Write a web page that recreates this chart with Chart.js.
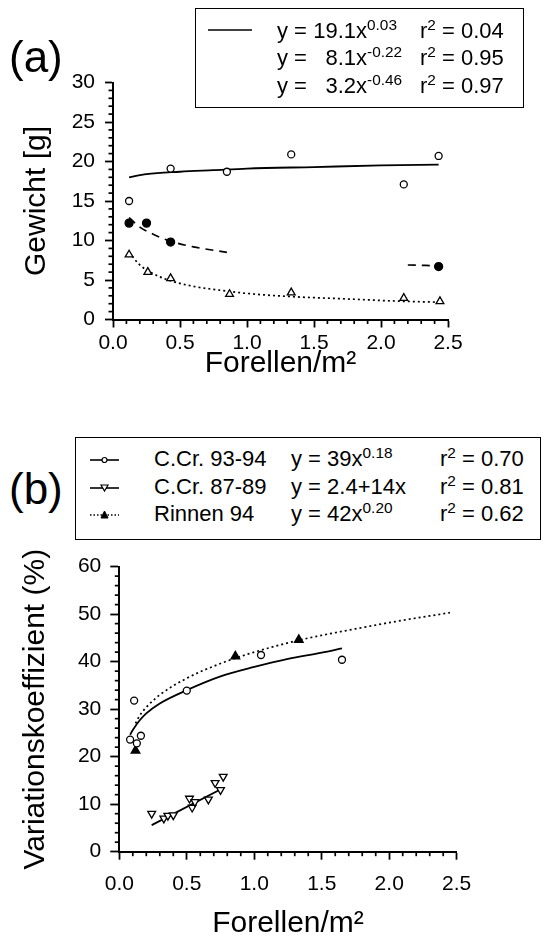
<!DOCTYPE html>
<html>
<head>
<meta charset="utf-8">
<script src="https://cdn.jsdelivr.net/npm/chart.js@4.4.0/dist/chart.umd.min.js"></script>
<style>
html, body { margin: 0; padding: 0; background: #fff; overflow: hidden; }
#page { position: relative; width: 548px; height: 938px; font-family: "Liberation Sans", Arial, Helvetica, sans-serif; color: #000; }
canvas { position: absolute; left: 0; }
#chartA { top: 0; }
#chartB { top: 545px; }
.tag { position: absolute; font-size: 44px; line-height: 1; }
.box { position: absolute; border: 1.5px solid #000; box-sizing: border-box; }
.txt { position: absolute; font-size: 22px; line-height: 1; white-space: nowrap; }
.coef { display: inline-block; text-align: right; }
sup { font-size: 0.7em; vertical-align: 0.5em; line-height: 0; }
svg { position: absolute; overflow: visible; }
</style>
</head>
<body>
<div id="page">
  <canvas id="chartA" width="548" height="400"></canvas>
  <canvas id="chartB" width="548" height="420"></canvas>

  <div class="tag" style="left:9px; top:35px;">(a)</div>
  <div class="tag" style="left:9px; top:467px;">(b)</div>

  <!-- Legende (a) -->
  <div class="box" style="left:195px; top:8px; width:329px; height:100px;"></div>
  <svg style="left:208px; top:30px;" width="44" height="2"><line x1="0" y1="0" x2="44" y2="0" stroke="#000" stroke-width="1.6"/></svg>
  <div class="txt" style="left:277px; top:20px;">y =</div>
  <div class="txt" style="left:310px; top:20px;"><span class="coef" style="width:46px;">19.1</span>x<sup>0.03</sup></div>
  <div class="txt" style="left:420px; top:20px;">r<sup>2</sup> = 0.04</div>
  <div class="txt" style="left:277px; top:47px;">y =</div>
  <div class="txt" style="left:310px; top:47px;"><span class="coef" style="width:46px;">8.1</span>x<sup>-0.22</sup></div>
  <div class="txt" style="left:420px; top:47px;">r<sup>2</sup> = 0.95</div>
  <div class="txt" style="left:277px; top:75px;">y =</div>
  <div class="txt" style="left:310px; top:75px;"><span class="coef" style="width:46px;">3.2</span>x<sup>-0.46</sup></div>
  <div class="txt" style="left:420px; top:75px;">r<sup>2</sup> = 0.97</div>

  <!-- Legende (b) -->
  <div class="box" style="left:75px; top:437px; width:466px; height:103px;"></div>
  <svg style="left:90px; top:460px;" width="29" height="2">
    <line x1="0" y1="0" x2="29" y2="0" stroke="#000" stroke-width="1.6"/>
    <circle cx="14.5" cy="0" r="2.5" fill="#fff" stroke="#000" stroke-width="1.2"/>
  </svg>
  <svg style="left:90px; top:488px;" width="29" height="2">
    <line x1="0" y1="0" x2="29" y2="0" stroke="#000" stroke-width="1.6"/>
    <polygon points="11,-3 18,-3 14.5,3" fill="#fff" stroke="#000" stroke-width="1.2"/>
  </svg>
  <svg style="left:90px; top:515px;" width="29" height="2">
    <line x1="0" y1="0" x2="29" y2="0" stroke="#000" stroke-width="1.3" stroke-dasharray="1.5,2"/>
    <polygon points="11,3 18,3 14.5,-4" fill="#000" stroke="#000" stroke-width="1"/>
  </svg>
  <div class="txt" style="left:154px; top:448px;">C.Cr. 93-94</div>
  <div class="txt" style="left:291px; top:448px;">y = 39x<sup>0.18</sup></div>
  <div class="txt" style="left:440px; top:448px;">r<sup>2</sup> = 0.70</div>
  <div class="txt" style="left:154px; top:476px;">C.Cr. 87-89</div>
  <div class="txt" style="left:291px; top:476px;">y = 2.4+14x</div>
  <div class="txt" style="left:440px; top:476px;">r<sup>2</sup> = 0.81</div>
  <div class="txt" style="left:154px; top:503px;">Rinnen 94</div>
  <div class="txt" style="left:291px; top:503px;">y = 42x<sup>0.20</sup></div>
  <div class="txt" style="left:440px; top:503px;">r<sup>2</sup> = 0.62</div>
</div>

<script>
// ---- Daten Panel (a): Gewicht [g] vs Forellen/m2 ----
const aOpenX = [0.12, 0.43, 0.85, 1.33, 2.17, 2.43];
const aOpenY = [15.0, 19.1, 18.7, 20.9, 17.1, 20.7];
const aFilledX = [0.12, 0.25, 0.43, 2.43];
const aFilledY = [12.2, 12.2, 9.8, 6.7];
const aTriX = [0.12, 0.26, 0.43, 0.87, 1.33, 2.17, 2.44];
const aTriY = [8.2, 6.0, 5.2, 3.2, 3.4, 2.7, 2.3];
// Regressionskurven
const aFit1X = [0.12, 0.25, 0.5, 0.75, 1.0, 1.5, 2.0, 2.43];
const aFit1Y = [18.0, 18.4, 18.7, 18.9, 19.1, 19.3, 19.5, 19.6];
const aFit2X = [0.12, 0.2, 0.3, 0.43, 0.6, 0.85, 1.5, 2.2, 2.43];
const aFit2Y = [12.9, 11.7, 10.8, 9.9, 9.2, 8.5, null, 6.9, 6.8];
const aFit3X = [0.12, 0.2, 0.3, 0.43, 0.6, 0.85, 1.0, 1.33, 1.75, 2.17, 2.43];
const aFit3Y = [8.5, 6.9, 5.8, 4.9, 4.2, 3.6, 3.3, 2.9, 2.6, 2.3, 2.2];

// ---- Daten Panel (b): Variationskoeffizient (%) ----
const bOpenX = [0.08, 0.11, 0.13, 0.16, 0.50, 1.05, 1.65];
const bOpenY = [23.6, 31.8, 22.8, 24.4, 33.9, 41.4, 40.4];
const bDownX = [0.24, 0.33, 0.36, 0.40, 0.52, 0.54, 0.56, 0.66, 0.71, 0.75, 0.77];
const bDownY = [8.0, 7.0, 7.6, 7.7, 11.2, 9.3, 10.5, 11.0, 14.5, 13.0, 15.8];
const bFilledX = [0.12, 0.86, 1.33];
const bFilledY = [21.3, 41.1, 44.6];
const bFit1X = [0.08, 0.1, 0.15, 0.2, 0.3, 0.5, 0.75, 1.0, 1.25, 1.5, 1.65];
const bFit1Y = [24.6, 25.6, 27.6, 29.1, 31.2, 34.0, 36.9, 38.9, 40.6, 41.9, 42.8];
const bFit2X = [0.24, 0.77];
const bFit2Y = [5.6, 13.4];
const bFit3X = [0.12, 0.15, 0.2, 0.3, 0.5, 0.75, 1.0, 1.33, 1.75, 2.1, 2.45];
const bFit3Y = [27.0, 28.6, 30.4, 33.0, 36.5, 39.6, 42.0, 44.5, 46.9, 48.7, 50.3];

// Achsen
const xMax = 2.5, xMinorStep = 0.1, xMajorStep = 0.5;
const aYMax = 30, aYMinorStep = 1, aYMajorStep = 5;
const bYMax = 60, bYMinorStep = 2, bYMajorStep = 10;

const FONT = '"Liberation Sans", Arial, Helvetica, sans-serif';

const pts = (xs, ys) => xs.map((x, i) => ({ x: x, y: ys[i] }));
const isMajor = (v, step) => Math.abs(v / step - Math.round(v / step)) < 1e-6;

function tickList(max, step) {
    const out = [];
    const n = Math.round(max / step);
    for (let i = 0; i <= n; i++) out.push({ value: +(i * step).toFixed(4) });
    return out;
}

// Nebenstriche nach aussen (Hauptstriche kommen von Chart.js selbst)
function minorTicks(specX, specY) {
    return {
        id: 'minorTicks',
        afterDraw(chart) {
            const ctx = chart.ctx;
            const area = chart.chartArea;
            ctx.save();
            ctx.strokeStyle = '#000';
            ctx.lineWidth = 1.7;
            ctx.setLineDash([]);
            [['x', specX], ['y', specY]].forEach(([id, spec]) => {
                const s = chart.scales[id];
                tickList(spec.max, spec.minor).forEach(t => {
                    if (isMajor(t.value, spec.major)) return;
                    const p = s.getPixelForValue(t.value);
                    ctx.beginPath();
                    if (id === 'x') {
                        ctx.moveTo(p, area.bottom);
                        ctx.lineTo(p, area.bottom + 4.5);
                    } else {
                        ctx.moveTo(area.left, p);
                        ctx.lineTo(area.left - 4.5, p);
                    }
                    ctx.stroke();
                });
            });
            ctx.restore();
        }
    };
}

function axis(opts) {
    return {
        type: 'linear',
        min: 0,
        max: opts.max,
        afterBuildTicks: s => { s.ticks = tickList(opts.max, opts.major); },
        afterFit: s => { if (opts.size.w) s.width = opts.size.w; if (opts.size.h) s.height = opts.size.h; },
        ticks: {
            autoSkip: false,
            maxRotation: 0,
            padding: opts.pad,
            color: '#000',
            font: { family: FONT, size: 21 },
            callback: v => opts.digits ? v.toFixed(1) : String(Math.round(v))
        },
        grid: {
            display: true,
            drawOnChartArea: false,
            drawTicks: true,
            tickLength: opts.majorLen,
            tickColor: '#000',
            tickWidth: 1.8
        },
        border: { display: true, color: '#000', width: 2 },
        title: {
            display: true,
            text: opts.title,
            color: '#000',
            font: { family: FONT, size: 30 },
            padding: opts.titlePad
        }
    };
}

function scatterSet(data, style, radius, fill, rotation) {
    return {
        data: data, showLine: false, pointStyle: style, pointRadius: radius,
        pointRotation: rotation || 0, pointBackgroundColor: fill, pointBorderColor: '#000',
        pointBorderWidth: 1.3, order: 0
    };
}

function lineSet(data, dash, width) {
    return {
        data: data, showLine: true, pointRadius: 0, borderColor: '#000',
        borderWidth: width || 1.6, borderDash: dash, spanGaps: false,
        cubicInterpolationMode: 'monotone', order: 1
    };
}

const common = {
    responsive: false,
    animation: false,
    events: [],
    plugins: { legend: { display: false }, tooltip: { enabled: false } }
};

// ---- Chart (a) ----
new Chart(document.getElementById('chartA'), {
    type: 'scatter',
    plugins: [minorTicks({ max: xMax, minor: xMinorStep, major: xMajorStep },
                         { max: aYMax, minor: aYMinorStep, major: aYMajorStep })],
    data: {
        datasets: [
            lineSet(pts(aFit1X, aFit1Y), [], 1.8),
            lineSet(pts(aFit2X, aFit2Y), [8, 6], 1.7),
            lineSet(pts(aFit3X, aFit3Y), [2, 3], 1.7),
            scatterSet(pts(aOpenX, aOpenY), 'circle', 3.5, '#fff'),
            scatterSet(pts(aFilledX, aFilledY), 'circle', 4, '#000'),
            scatterSet(pts(aTriX, aTriY), 'triangle', 4.5, '#fff')
        ]
    },
    options: {
        ...common,
        layout: { padding: { left: 0, top: 82.5, right: 100, bottom: 0 } },
        scales: {
            x: axis({ max: xMax, major: xMajorStep, majorLen: 8, digits: true, pad: 3,
                      size: { h: 80.5 }, title: 'Forellen/m²', titlePad: { bottom: 18 } }),
            y: axis({ max: aYMax, major: aYMajorStep, majorLen: 8, digits: false, pad: 10,
                      size: { w: 113 }, title: 'Gewicht [g]', titlePad: { top: 19 } })
        }
    }
});

// ---- Chart (b) ----
new Chart(document.getElementById('chartB'), {
    type: 'scatter',
    plugins: [minorTicks({ max: xMax, minor: xMinorStep, major: xMajorStep },
                         { max: bYMax, minor: bYMinorStep, major: bYMajorStep })],
    data: {
        datasets: [
            lineSet(pts(bFit1X, bFit1Y), [], 1.8),
            lineSet(pts(bFit2X, bFit2Y), [], 1.8),
            lineSet(pts(bFit3X, bFit3Y), [2, 3], 1.7),
            scatterSet(pts(bOpenX, bOpenY), 'circle', 3.5, '#fff'),
            scatterSet(pts(bDownX, bDownY), 'triangle', 4.5, '#fff', 180),
            scatterSet(pts(bFilledX, bFilledY), 'triangle', 5, '#000')
        ]
    },
    options: {
        ...common,
        layout: { padding: { left: 0, top: 20, right: 91.3, bottom: 0 } },
        scales: {
            x: axis({ max: xMax, major: xMajorStep, majorLen: 8, digits: true, pad: 11.5,
                      size: { h: 113.3 }, title: 'Forellen/m²', titlePad: { bottom: 23 } }),
            y: axis({ max: bYMax, major: bYMajorStep, majorLen: 9, digits: false, pad: 9,
                      size: { w: 119.3 }, title: 'Variationskoeffizient (%)', titlePad: { top: 18 } })
        }
    }
});
</script>
</body>
</html>
